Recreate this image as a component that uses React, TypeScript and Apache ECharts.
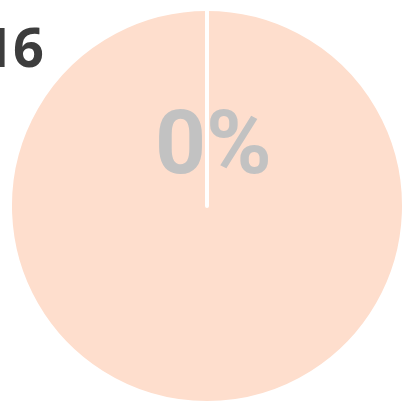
import React, { useEffect, useRef } from "react";
import * as echarts from "echarts";

const categories = ["Other", "Share"];
const values = [100, 0];
const shareLabel = "0%";
const yearLabel = "2016";

export default function App() {
  const ref = useRef<HTMLDivElement>(null);
  useEffect(() => {
    const chart = echarts.init(ref.current!, undefined, { renderer: "svg" });
    chart.setOption({
      animation: false,
      graphic: [
        {
          type: "text",
          right: 403 - 44,
          top: 19,
          style: {
            text: yearLabel,
            fill: "#3d3d3d",
            font: "bold 54px 'Open Sans'",
            textAlign: "right",
          },
          z: 10,
        },
        {
          type: "text",
          left: 155,
          top: 98,
          style: {
            text: shareLabel,
            fill: "#c2c2c2",
            font: "bold 89px Roboto",
          },
          z: 10,
        },
      ],
      series: [
        {
          type: "pie",
          center: [207, 206],
          radius: [0, 197],
          startAngle: 90,
          clockwise: true,
          label: { show: false },
          labelLine: { show: false },
          emphasis: { disabled: true },
          itemStyle: { borderColor: "#ffffff", borderWidth: 4 },
          data: categories.map((c, i) => ({
            name: c,
            value: values[i],
            itemStyle: { color: "#fedecd" },
          })),
        },
      ],
    });
    return () => chart.dispose();
  }, []);
  return (
    <div
      ref={ref}
      style={{ position: "fixed", left: 0, top: 0, width: 403, height: 401 }}
    />
  );
}
